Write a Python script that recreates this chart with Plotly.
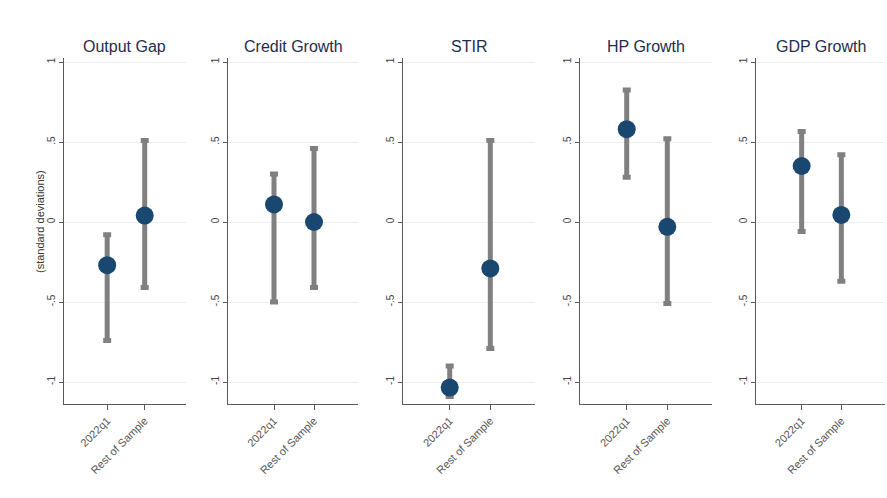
import plotly.graph_objects as go

# Panel titles and the two groups compared in each
panels = ["Output Gap", "Credit Growth", "STIR", "HP Growth", "GDP Growth"]
groups = ["2022q1", "Rest of Sample"]

# Point estimates (standard deviations) per panel: [2022q1, Rest of Sample]
estimate = [
    [-0.27, 0.04],
    [0.11, 0.00],
    [-1.035, -0.29],
    [0.58, -0.03],
    [0.35, 0.044],
]
# Lower and upper bounds of the intervals
lower = [
    [-0.74, -0.41],
    [-0.50, -0.41],
    [-1.09, -0.79],
    [0.28, -0.51],
    [-0.06, -0.37],
]
upper = [
    [-0.08, 0.51],
    [0.30, 0.46],
    [-0.90, 0.51],
    [0.825, 0.52],
    [0.565, 0.42],
]

ytick_vals = [-1, -0.5, 0, 0.5, 1]
ytick_text = ["-1", "-.5", "0", ".5", "1"]

W, H = 887, 498
# horizontal pixel extents of each panel
px_left = [64, 228, 403, 580, 756]
px_right = [186, 358, 535, 712, 885]
px_top, px_bottom = 58, 404

navy = "#1a476f"
bar_gray = "#808080"
axis_col = "#5a5a5a"
font_family = "Liberation Sans, Arial, sans-serif"

fig = go.Figure()
layout = {}
annotations = []

for i, name in enumerate(panels):
    k = "" if i == 0 else str(i + 1)
    xref, yref = "x" + k, "y" + k
    xs = [1, 2]
    ys = estimate[i]
    plus = [upper[i][j] - ys[j] for j in range(2)]
    minus = [ys[j] - lower[i][j] for j in range(2)]
    fig.add_trace(go.Scatter(
        x=xs, y=ys, mode="markers", xaxis=xref, yaxis=yref,
        marker=dict(color=navy, size=18, line=dict(width=0)),
        error_y=dict(type="data", symmetric=False, array=plus, arrayminus=minus,
                     color=bar_gray, thickness=5, width=4),
        showlegend=False,
    ))
    dom_x = [px_left[i] / W, px_right[i] / W]
    layout["xaxis" + k] = dict(
        domain=dom_x, anchor=yref, range=[-0.15, 3.1],
        tickvals=xs, ticktext=groups, tickangle=-45,
        ticks="outside", ticklen=5, tickcolor=axis_col,
        showline=True, linecolor=axis_col, linewidth=1,
        showgrid=False, zeroline=False,
        tickfont=dict(size=11, color="#555555", family=font_family),
    )
    layout["yaxis" + k] = dict(
        domain=[1 - px_bottom / H, 1 - px_top / H], anchor=xref,
        range=[-1.1375, 1.025],
        tickvals=ytick_vals, ticktext=ytick_text, tickangle=-90,
        ticks="outside", ticklen=4, tickcolor=axis_col,
        showline=True, linecolor=axis_col, linewidth=1,
        showgrid=True, gridcolor="#eeeeee", gridwidth=1, zeroline=False,
        tickfont=dict(size=10, color="#444444", family=font_family),
    )
    annotations.append(dict(
        text=name, xref="paper", yref="paper",
        x=(px_left[i] + px_right[i]) / 2 / W, y=1 - 46 / H,
        xanchor="center", yanchor="middle", showarrow=False,
        font=dict(size=16, color="#1e2d4f", family=font_family),
    ))

annotations.append(dict(
    text="(standard deviations)", xref="paper", yref="paper",
    x=40 / W, y=1 - 222 / H, xanchor="center", yanchor="middle",
    textangle=-90, showarrow=False,
    font=dict(size=11, color="#333333", family=font_family),
))

fig.update_layout(
    width=W, height=H, margin=dict(l=0, r=0, t=0, b=0),
    paper_bgcolor="white", plot_bgcolor="white",
    annotations=annotations, **layout,
)

fig.write_html("out.html")
